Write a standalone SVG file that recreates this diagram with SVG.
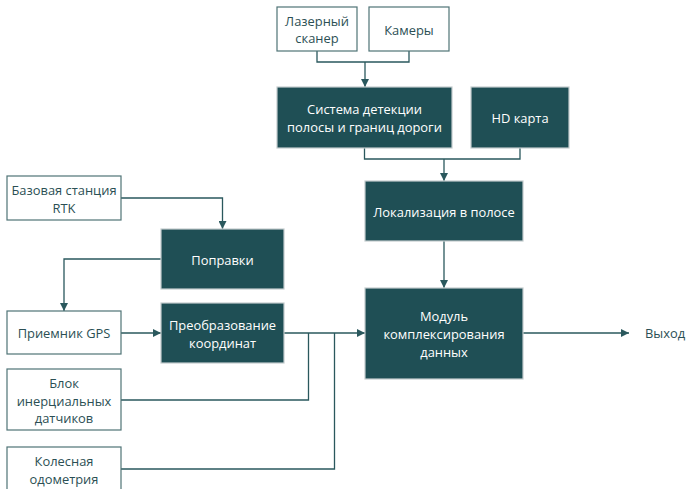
<svg xmlns="http://www.w3.org/2000/svg" width="686" height="489" viewBox="0 0 686 489">
<defs>
<marker id="ah" viewBox="0 0 10 10" refX="10" refY="5" markerWidth="8" markerHeight="8" markerUnits="userSpaceOnUse" orient="auto">
<path d="M0,0 L10,5 L0,10 Z" fill="#2a585d"/>
</marker>
<style>
.w{fill:#ffffff;stroke:#4f7376;stroke-width:1.2}
.d{fill:#1f4f55;stroke:#c3cccd;stroke-width:1.2}
text{font-family:"Open Sans","Noto Sans",sans-serif;font-size:12.9px;text-anchor:middle;dominant-baseline:central}
.tw{fill:#2b4f54}
.td{fill:#ffffff}
.c{fill:none;stroke:#2a585d;stroke-width:1.3}
</style>
</defs>
<rect width="686" height="489" fill="#ffffff"/>
<g id="connectors">
<path class="c" d="M317,51 V62 H409 V51"/>
<path class="c" d="M365,62 V87" marker-end="url(#ah)"/>
<path class="c" d="M364.5,148 V159 H520 V148"/>
<path class="c" d="M444,159 V181" marker-end="url(#ah)"/>
<path class="c" d="M444,241 V288" marker-end="url(#ah)"/>
<path class="c" d="M121,198 H222.5 V229" marker-end="url(#ah)"/>
<path class="c" d="M161,259 H64 V311" marker-end="url(#ah)"/>
<path class="c" d="M121,333 H161" marker-end="url(#ah)"/>
<path class="c" d="M284,333 H365" marker-end="url(#ah)"/>
<path class="c" d="M121,400 H308.5 V333"/>
<path class="c" d="M121,469 H334.5 V333"/>
<path class="c" d="M523,333 H629" marker-end="url(#ah)"/>
</g>
<g id="laser"><rect class="w" x="277" y="7" width="80" height="44"/><text class="tw" x="317" y="20.7">Лазерный</text><text class="tw" x="317" y="38.3">сканер</text></g>
<g id="cameras"><rect class="w" x="369" y="7" width="80" height="44"/><text class="tw" x="409" y="30">Камеры</text></g>
<g id="lane-detect"><rect class="d" x="277" y="87" width="175" height="61"/><text class="td" x="364.5" y="109">Система детекции</text><text class="td" x="364.5" y="127">полосы и границ дороги</text></g>
<g id="hdmap"><rect class="d" x="471" y="87" width="98" height="61"/><text class="td" x="520" y="117.7">HD карта</text></g>
<g id="lane-loc"><rect class="d" x="365" y="181" width="158" height="60"/><text class="td" x="444" y="212">Локализация в полосе</text></g>
<g id="rtk"><rect class="w" x="7" y="176" width="114" height="44"/><text class="tw" x="64" y="190">Базовая станция</text><text class="tw" x="64" y="207.7">RTK</text></g>
<g id="corrections"><rect class="d" x="161" y="229" width="123" height="60"/><text class="td" x="222.5" y="260">Поправки</text></g>
<g id="gps"><rect class="w" x="7" y="311" width="114" height="43"/><text class="tw" x="64" y="333">Приемник GPS</text></g>
<g id="coord"><rect class="d" x="161" y="303" width="123" height="60"/><text class="td" x="222.5" y="324.7">Преобразование</text><text class="td" x="222.5" y="342.7">координат</text></g>
<g id="fusion"><rect class="d" x="365" y="288" width="158" height="91"/><text class="td" x="444" y="316">Модуль</text><text class="td" x="444" y="334">комплексирования</text><text class="td" x="444" y="351.7">данных</text></g>
<g id="imu"><rect class="w" x="7" y="369" width="114" height="61"/><text class="tw" x="64" y="382.7">Блок</text><text class="tw" x="64" y="400.7">инерциальных</text><text class="tw" x="64" y="418.3">датчиков</text></g>
<g id="odometry"><rect class="w" x="7" y="447" width="114" height="50"/><text class="tw" x="64" y="461">Колесная</text><text class="tw" x="64" y="479">одометрия</text></g>
<g id="output"><text class="tw" x="645" y="333" style="text-anchor:start">Выход</text></g>
</svg>
